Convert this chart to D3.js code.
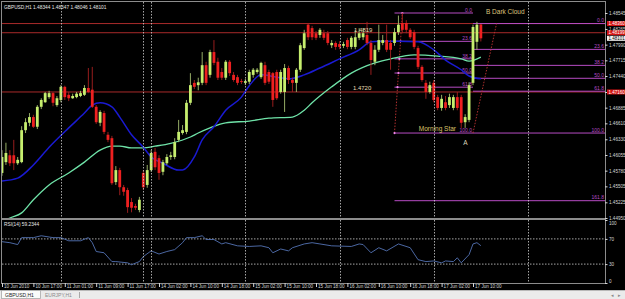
<!DOCTYPE html>
<html>
<head>
<meta charset="utf-8">
<script src="https://cdn.jsdelivr.net/npm/d3@7"></script>
<style>
  body { margin: 0; background: #000; overflow: hidden; }
  svg { display: block; font-family: "Liberation Sans", Arial, sans-serif; }
</style>
</head>
<body>
<svg width="625" height="299"></svg>
<script>
// GBPUSD,H1 - hourly candles, 10 Jun 09:00 .. 17 Jun 12:00 (2010)
var symbol = "GBPUSD,H1";

var opens = [
  1.4574,1.4593,1.4605,1.4605,1.4591,1.4593,1.4649,1.4662,1.4672,1.4655,
  1.4690,1.4698,1.4707,1.4714,1.4693,1.4702,1.4725,1.4711,1.4705,1.4707,
  1.4709,1.4711,1.4723,1.4720,1.4690,1.4662,1.4679,1.4641,1.4635,1.4558,
  1.4579,1.4549,1.4544,1.4523,1.4516,1.4509,1.4574,1.4553,1.4579,1.4611,
  1.4600,1.4576,1.4591,1.4602,1.4602,1.4632,1.4644,1.4646,1.4697,1.4732,
  1.4728,1.4732,1.4763,1.4746,1.4786,1.4769,1.4751,1.4741,1.4769,1.4746,
  1.4742,1.4735,1.4732,1.4734,1.4746,1.4751,1.4742,1.4763,1.4751,1.4749,
  1.4751,1.4716,1.4716,1.4758,1.4737,1.4732,1.4755,1.4793,1.4834,1.4828,
  1.4819,1.4816,1.4819,1.4819,1.4798,1.4802,1.4800,1.4797,1.4807,1.4795,
  1.4795,1.4811,1.4812,1.4816,1.4802,1.4769,1.4790,1.4802,1.4807,1.4802,
  1.4802,1.4821,1.4837,1.4837,1.4825,1.4821,1.4793,1.4760,1.4732,1.4716,
  1.4732,1.4707,1.4688,1.4698,1.4693,1.4688,1.4707,1.4707,1.4663,1.4667,
  1.4732,1.4804,1.48344
];
var highs = [
  1.4614,1.4627,1.4614,1.4632,1.4602,1.4656,1.4670,1.4679,1.4676,1.4693,
  1.4705,1.4716,1.4718,1.4716,1.4709,1.4728,1.4727,1.4716,1.4713,1.4716,
  1.4718,1.4728,1.4758,1.4760,1.4693,1.4684,1.4683,1.4646,1.4639,1.4586,
  1.4583,1.4553,1.4548,1.4530,1.4520,1.4532,1.4579,1.4588,1.4614,1.4618,
  1.4605,1.4597,1.4607,1.4611,1.4635,1.4667,1.4658,1.4702,1.4749,1.4737,
  1.4741,1.4786,1.4769,1.4790,1.4807,1.4776,1.4758,1.4772,1.4772,1.4751,
  1.4746,1.4739,1.4739,1.4755,1.4758,1.4758,1.4769,1.4769,1.4755,1.4751,
  1.4755,1.4755,1.4765,1.4762,1.4741,1.4758,1.4802,1.4825,1.4837,1.4832,
  1.4823,1.4828,1.4825,1.4823,1.4807,1.4805,1.4805,1.4804,1.4811,1.4814,
  1.4825,1.4828,1.4828,1.4839,1.4807,1.4798,1.4834,1.4816,1.4834,1.4807,
  1.4828,1.4850,1.4855,1.4842,1.4828,1.4825,1.4797,1.4763,1.4737,1.4734,
  1.4737,1.4711,1.4711,1.4709,1.4713,1.4711,1.4716,1.4711,1.4677,1.4733,
  1.4834,1.4839,1.48347
];
var lows = [
  1.4569,1.4588,1.4586,1.4579,1.4588,1.4591,1.4644,1.4656,1.4653,1.4651,
  1.4686,1.4697,1.4704,1.4691,1.4690,1.4698,1.4702,1.4700,1.4704,1.4705,
  1.4707,1.4709,1.4714,1.4688,1.4660,1.4656,1.4642,1.4628,1.4553,1.4553,
  1.4535,1.4534,1.4504,1.4505,1.4509,1.4505,1.4544,1.4548,1.4576,1.4579,
  1.4562,1.4570,1.4588,1.4597,1.4598,1.4628,1.4641,1.4642,1.4693,1.4721,
  1.4719,1.4728,1.4728,1.4741,1.4763,1.4737,1.4737,1.4737,1.4744,1.4734,
  1.4728,1.4730,1.4728,1.4730,1.4741,1.4748,1.4739,1.4728,1.4730,1.4690,
  1.4702,1.4713,1.4681,1.4730,1.4716,1.4716,1.4751,1.4790,1.4807,1.4807,
  1.4807,1.4811,1.4807,1.4798,1.4793,1.4790,1.4791,1.4793,1.4791,1.4791,
  1.4791,1.4807,1.4807,1.4798,1.4746,1.4763,1.4786,1.4798,1.4786,1.4755,
  1.4797,1.4816,1.4819,1.4819,1.4809,1.4791,1.4756,1.4734,1.4704,1.4713,
  1.4698,1.4684,1.4683,1.4684,1.4688,1.4684,1.4684,1.4653,1.4653,1.4663,
  1.4728,1.4790,1.48046
];
var closes = [
  1.4602,1.4609,1.4591,1.4591,1.4597,1.4649,1.4663,1.4672,1.4655,1.4690,
  1.4702,1.4714,1.4714,1.4697,1.4705,1.4725,1.4707,1.4705,1.4709,1.4713,
  1.4714,1.4723,1.4716,1.4690,1.4663,1.4681,1.4646,1.4632,1.4556,1.4579,
  1.4549,1.4541,1.4514,1.4513,1.4513,1.4527,1.4549,1.4579,1.4609,1.4584,
  1.4574,1.4593,1.4602,1.4605,1.4628,1.4646,1.4649,1.4697,1.4728,1.4725,
  1.4733,1.4763,1.4732,1.4786,1.4767,1.4741,1.4741,1.4769,1.4749,1.4737,
  1.4732,1.4734,1.4735,1.4751,1.4755,1.4755,1.4767,1.4732,1.4734,1.4702,
  1.4705,1.4751,1.4758,1.4737,1.4732,1.4755,1.4798,1.4819,1.4812,1.4812,
  1.4811,1.4825,1.4811,1.4802,1.4802,1.4795,1.4795,1.4800,1.4795,1.4811,
  1.4812,1.4819,1.4819,1.4802,1.4772,1.4790,1.4807,1.4807,1.4790,1.4790,
  1.4821,1.4834,1.4825,1.4825,1.4812,1.4795,1.4760,1.4737,1.4716,1.4728,
  1.4702,1.4688,1.4704,1.4688,1.4707,1.4707,1.4688,1.4662,1.4672,1.4728,
  1.4830,1.4834,1.48101
];

// moving averages, read at selected bars
var blueBars = [0,4,8,12,17,21,23,25,28,30,33,36,38,41,45,46,49,51,54,57,61,63,66,70,73,77,81,86,91,94,96,101,106,110,113,117,119,122];
var blueVals = [1.4560,1.4565,1.4588,1.4619,1.4653,1.4679,1.4693,1.4697,1.4690,1.4672,1.4641,1.4619,1.4602,1.4591,1.4579,1.4579,1.4602,1.4632,1.4655,1.4684,1.4707,1.4727,1.4746,1.4742,1.4739,1.4746,1.4758,1.4774,1.4790,1.4804,1.4805,1.4805,1.4804,1.4790,1.4772,1.4755,1.4744,1.4739];
var greenBars = [0,2,5,8,12,17,21,25,28,30,33,36,39,43,48,50,53,57,63,68,74,77,79,84,89,95,99,105,111,117,119,122];
var greenVals = [1.4488,1.4495,1.4504,1.4527,1.4553,1.4574,1.4593,1.4614,1.4621,1.4621,1.4618,1.4618,1.4621,1.4626,1.4637,1.4644,1.4653,1.4662,1.4665,1.4670,1.4672,1.4684,1.4697,1.4725,1.4749,1.4767,1.4774,1.4781,1.4779,1.4774,1.4770,1.4777];

// RSI(14)
var rsiBars = [0,2,4,5,8,10,13,15,17,20,22,23,24,26,28,29,32,33,35,36,38,40,42,44,46,47,49,51,52,54,56,57,60,63,66,68,69,71,73,74,77,79,81,84,89,91,92,94,96,98,101,104,106,108,110,112,113,115,116,117,119,120,121,122];
var rsiVals = [65.6,64,61,72,72,75,72,72,67,67,72,64,50,48,34,34,32,29,34,42,51,46,50,53,64,72,72,75,69,69,62,64,59,58,59,56,48,54,51,56,62,64,62,59,58,62,61,48,56,51,62,56,37,34,35,32,35,34,40,32,45,62,64,59.2344];

// axes
var priceTicks = [1.48545,1.48265,1.47990,1.47715,1.47440,1.47160,1.46885,1.46610,1.46330,1.46055,1.45780,1.45505,1.45225,1.44950];
var tickBars = [0,8,16,24,32,40,48,56,64,72,80,88,96,104,112,120];
var tickLabels = ["10 Jun 2010","10 Jun 17:00","11 Jun 01:00","11 Jun 09:00","11 Jun 17:00","14 Jun 02:00","14 Jun 10:00","14 Jun 18:00","15 Jun 02:00","15 Jun 10:00","15 Jun 18:00","16 Jun 02:00","16 Jun 10:00","16 Jun 18:00","17 Jun 02:00","17 Jun 10:00"];
var separatorBars = [15,36,38,62,86,110,134];
var rsiLevels = [70,30];
var rsiTicks = [100,70,30,0];

// objects drawn on the chart
var redLevels = [1.48360,1.48199,1.47160];
var bidPrice = 1.48101;
var fibRatios = [0,23.6,38.2,50,61.8,100,161.8];
var fibB = {hi: 1.48545, lo: 1.4644, hiBar: 102, loBar: 100, endBar: 120};
var fibA = {hi: 1.48360, lo: 1.4644, hiBar: 126, loBar: 120};
var notes = [
  {text: "1.4819", bar: 89.7, price: 1.4822, color: "#e6dcb4", size: 6},
  {text: "1.4720", bar: 89.4, price: 1.4720, color: "#e6dcb4", size: 6},
  {text: "B Dark Cloud", bar: 123.3, price: 1.48519, color: "#dcc47e", size: 6.5},
  {text: "Morning Star", bar: 106.2, price: 1.46476, color: "#dcc06a", size: 6.5},
  {text: "A", bar: 117.5, price: 1.4623, color: "#ddd6bc", size: 6.5}
];

var svg = d3.select("svg"),
    W = +svg.attr("width"),
    H = +svg.attr("height");

var main = {left: 2, right: 605, top: 2, bottom: 218},
    sub = {top: 220, bottom: 283};

var x = d3.scaleLinear().domain([0, 120]).range([2, 473]);
var y = d3.scaleLinear().domain([1.4495, 1.48545]).range([218, 13]);
var yr = d3.scaleLinear().domain([0, 100]).range([sub.bottom, sub.top]);

var fmt5 = d3.format(".5f");
var axisColor = "#d6d6d6";
var fibColor = "#b74cc4";
var redLine = "#a82a2a";

svg.append("rect").attr("width", W).attr("height", H).attr("fill", "#000");

var defs = svg.append("defs");
defs.append("clipPath").attr("id", "clipMain").append("rect")
    .attr("x", main.left).attr("y", main.top)
    .attr("width", main.right - main.left).attr("height", main.bottom - main.top);
defs.append("clipPath").attr("id", "clipSub").append("rect")
    .attr("x", main.left).attr("y", sub.top)
    .attr("width", main.right - main.left).attr("height", sub.bottom - sub.top);

var g = svg.append("g").attr("clip-path", "url(#clipMain)");
var gs = svg.append("g").attr("clip-path", "url(#clipSub)");

// period separators
separatorBars.forEach(function(b) {
  [[main.top, main.bottom], [sub.top, sub.bottom]].forEach(function(r) {
    svg.append("line")
        .attr("x1", Math.round(x(b)) + 0.5).attr("x2", Math.round(x(b)) + 0.5)
        .attr("y1", r[0]).attr("y2", r[1])
        .attr("stroke", "#cfcfcf").attr("stroke-width", 0.8)
        .attr("stroke-dasharray", "1.5,1.5");
  });
});

// horizontal red levels
g.selectAll(".red").data(redLevels).enter().append("line")
    .attr("x1", main.left).attr("x2", main.right)
    .attr("y1", function(d) { return y(d); }).attr("y2", function(d) { return y(d); })
    .attr("stroke", redLine).attr("stroke-width", 1);

// fibonacci B (short, across the drop)
function fibPrice(f, r) { return f.hi - (f.hi - f.lo) * r / 100; }
var fibBRatios = fibRatios.slice(0, 6);
fibBRatios.forEach(function(r) {
  var p = fibPrice(fibB, r);
  g.append("line")
      .attr("x1", x(fibB.loBar)).attr("x2", x(fibB.endBar))
      .attr("y1", y(p)).attr("y2", y(p))
      .attr("stroke", fibColor).attr("stroke-width", 1);
  g.append("text")
      .attr("x", x(fibB.endBar) - 1).attr("y", y(p) - 1.2)
      .attr("text-anchor", "end").attr("font-size", 5)
      .attr("fill", fibColor).text(r.toFixed(1));
});
// fibonacci A (ray to the right)
fibRatios.forEach(function(r) {
  var p = fibPrice(fibA, r);
  g.append("line")
      .attr("x1", r === 161.8 ? x(fibB.loBar) : x(fibA.loBar)).attr("x2", main.right)
      .attr("y1", y(p)).attr("y2", y(p))
      .attr("stroke", fibColor).attr("stroke-width", 1);
  g.append("text")
      .attr("x", main.right - 1).attr("y", y(p) - 1.2)
      .attr("text-anchor", "end").attr("font-size", 5)
      .attr("fill", fibColor).text(r.toFixed(1));
});
// fib diagonals
[fibB, fibA].forEach(function(f) {
  g.append("line")
      .attr("x1", x(f.loBar)).attr("y1", y(f.lo))
      .attr("x2", x(f.hiBar)).attr("y2", y(f.hi))
      .attr("stroke", "#c23434").attr("stroke-width", 0.9)
      .attr("stroke-dasharray", "1.5,1.5");
});
fibBRatios.forEach(function(r) {
  var p = fibPrice(fibB, r),
      t = (p - fibB.lo) / (fibB.hi - fibB.lo);
  g.append("circle")
      .attr("cx", x(fibB.loBar + (fibB.hiBar - fibB.loBar) * t)).attr("cy", y(p))
      .attr("r", 1.1).attr("fill", "#f08af0");
});

// moving averages
var maLine = d3.line()
    .x(function(d) { return x(d[0]); })
    .y(function(d) { return y(d[1]); })
    .curve(d3.curveMonotoneX);
g.append("path")
    .datum(d3.zip(greenBars, greenVals))
    .attr("d", maLine).attr("fill", "none")
    .attr("stroke", "#6fe3a8").attr("stroke-width", 1.3);
g.append("path")
    .datum(d3.zip(blueBars, blueVals))
    .attr("d", maLine).attr("fill", "none")
    .attr("stroke", "#1a1ad2").attr("stroke-width", 1.5);

// candles
var bars = opens.map(function(o, i) {
  return {i: i, o: o, h: highs[i], l: lows[i], c: closes[i], up: closes[i] >= o};
});
var candle = g.selectAll(".candle").data(bars).enter().append("g");
candle.append("line")
    .attr("x1", function(d) { return x(d.i); }).attr("x2", function(d) { return x(d.i); })
    .attr("y1", function(d) { return y(d.h); }).attr("y2", function(d) { return y(d.l); })
    .attr("stroke", function(d) { return d.up ? "#a6c070" : "#a82020"; })
    .attr("stroke-width", 0.9);
candle.append("rect")
    .attr("x", function(d) { return x(d.i) - 1.4; })
    .attr("width", 2.8)
    .attr("y", function(d) { return y(Math.max(d.o, d.c)); })
    .attr("height", function(d) { return Math.max(0.9, Math.abs(y(d.o) - y(d.c))); })
    .attr("fill", function(d) { return d.up ? "#c6ee6e" : "#ee2020"; });

// text objects
notes.forEach(function(n) {
  g.append("text")
      .attr("x", x(n.bar)).attr("y", y(n.price))
      .attr("font-size", n.size).attr("fill", n.color)
      .text(n.text);
});

// RSI panel
gs.selectAll(".lvl").data(rsiLevels).enter().append("line")
    .attr("x1", main.left).attr("x2", main.right)
    .attr("y1", function(d) { return yr(d); }).attr("y2", function(d) { return yr(d); })
    .attr("stroke", "#cfcfcf").attr("stroke-width", 0.8)
    .attr("stroke-dasharray", "1.5,1.5");
gs.append("path")
    .datum(d3.zip(rsiBars, rsiVals))
    .attr("fill", "none").attr("stroke", "#5473b4").attr("stroke-width", 0.9)
    .attr("d", d3.line()
        .x(function(d) { return x(d[0]); })
        .y(function(d) { return yr(d[1]); }));

// frames
[[main.top, main.bottom], [sub.top, sub.bottom]].forEach(function(r) {
  svg.append("rect")
      .attr("x", main.left - 0.5).attr("y", r[0] - 0.5)
      .attr("width", main.right - main.left + 1).attr("height", r[1] - r[0] + 1)
      .attr("fill", "none").attr("stroke", "#8c8c8c").attr("stroke-width", 1);
});

// price axis
function styleAxis(sel) {
  sel.select(".domain").remove();
  sel.selectAll("line").attr("stroke", axisColor);
  sel.selectAll("text").attr("fill", axisColor)
      .attr("font-family", "'Liberation Sans', Arial, sans-serif").attr("font-size", 4.6);
}
svg.append("g")
    .attr("transform", "translate(" + main.right + ",0)")
    .call(d3.axisRight(y).tickValues(priceTicks).tickFormat(fmt5).tickSize(2.5).tickPadding(1.5))
    .call(styleAxis);

var boxes = redLevels.map(function(p) { return {p: p, bg: "#d41414", fg: "#fff"}; })
    .concat([{p: bidPrice, bg: "#f4f4f4", fg: "#000"}]);
var box = svg.selectAll(".box").data(boxes).enter().append("g")
    .attr("transform", function(d) { return "translate(" + (main.right + 2) + "," + y(d.p) + ")"; });
box.append("rect").attr("x", 0).attr("y", -2.5).attr("width", 18).attr("height", 5)
    .attr("fill", function(d) { return d.bg; });
box.append("text").attr("x", 1.5).attr("y", 1.6).attr("font-size", 4.5)
    .attr("fill", function(d) { return d.fg; })
    .text(function(d) { return fmt5(d.p); });

// RSI axis
var rAxis = svg.append("g")
    .attr("transform", "translate(" + main.right + ",0)")
    .call(d3.axisRight(yr).tickValues(rsiTicks).tickSize(2.5).tickPadding(1.5))
    .call(styleAxis);
rAxis.selectAll("text").filter(function(d) { return d === 100; }).attr("dy", "0.95em");
rAxis.selectAll("text").filter(function(d) { return d === 0; }).attr("dy", "-0.1em");

// time axis
var tAxis = svg.append("g")
    .attr("transform", "translate(0," + sub.bottom + ")")
    .call(d3.axisBottom(x).tickValues(tickBars)
        .tickFormat(function(d, i) { return tickLabels[i]; }).tickSize(4))
    .call(styleAxis);
tAxis.selectAll("text").attr("text-anchor", "start").attr("x", 1.5).attr("y", 1.6);

// header texts
var last = bars[bars.length - 1];
svg.append("text").attr("x", 4).attr("y", 8.5)
    .attr("font-size", 4.8).attr("fill", "#e8e8e8")
    .text(symbol + "  " + [last.o, last.h, last.l, last.c].map(fmt5).join(" "));
svg.append("text").attr("x", 4).attr("y", 226)
    .attr("font-size", 4.8).attr("fill", "#e8e8e8")
    .text("RSI(14) " + d3.format(".4f")(rsiVals[rsiVals.length - 1]));

// tab bar
var tabs = svg.append("g").attr("transform", "translate(0,290)");
tabs.append("rect").attr("width", W).attr("height", 9).attr("fill", "#ebebeb");
tabs.append("line").attr("x1", 0).attr("x2", W).attr("y1", 0.5).attr("y2", 0.5).attr("stroke", "#b8b8b8");
tabs.append("rect").attr("x", 1.5).attr("y", 0.5).attr("width", 39).attr("height", 8)
    .attr("fill", "#fbfbfb").attr("stroke", "#a8a8a8").attr("stroke-width", 0.8);
tabs.append("text").attr("x", 5).attr("y", 6.6).attr("font-size", 5).attr("fill", "#222").text("GBPUSD,H1");
tabs.append("text").attr("x", 45).attr("y", 6.6).attr("font-size", 5).attr("fill", "#8a8a8a").text("EURJPY,H1");
tabs.append("line").attr("x1", 79.5).attr("x2", 79.5).attr("y1", 2).attr("y2", 8).attr("stroke", "#a8a8a8");
tabs.append("text").attr("x", 611).attr("y", 6.8).attr("font-size", 5).attr("fill", "#888").text("\u25C2");
tabs.append("text").attr("x", 618).attr("y", 6.8).attr("font-size", 5).attr("fill", "#888").text("\u25B8");
</script>
</body>
</html>
